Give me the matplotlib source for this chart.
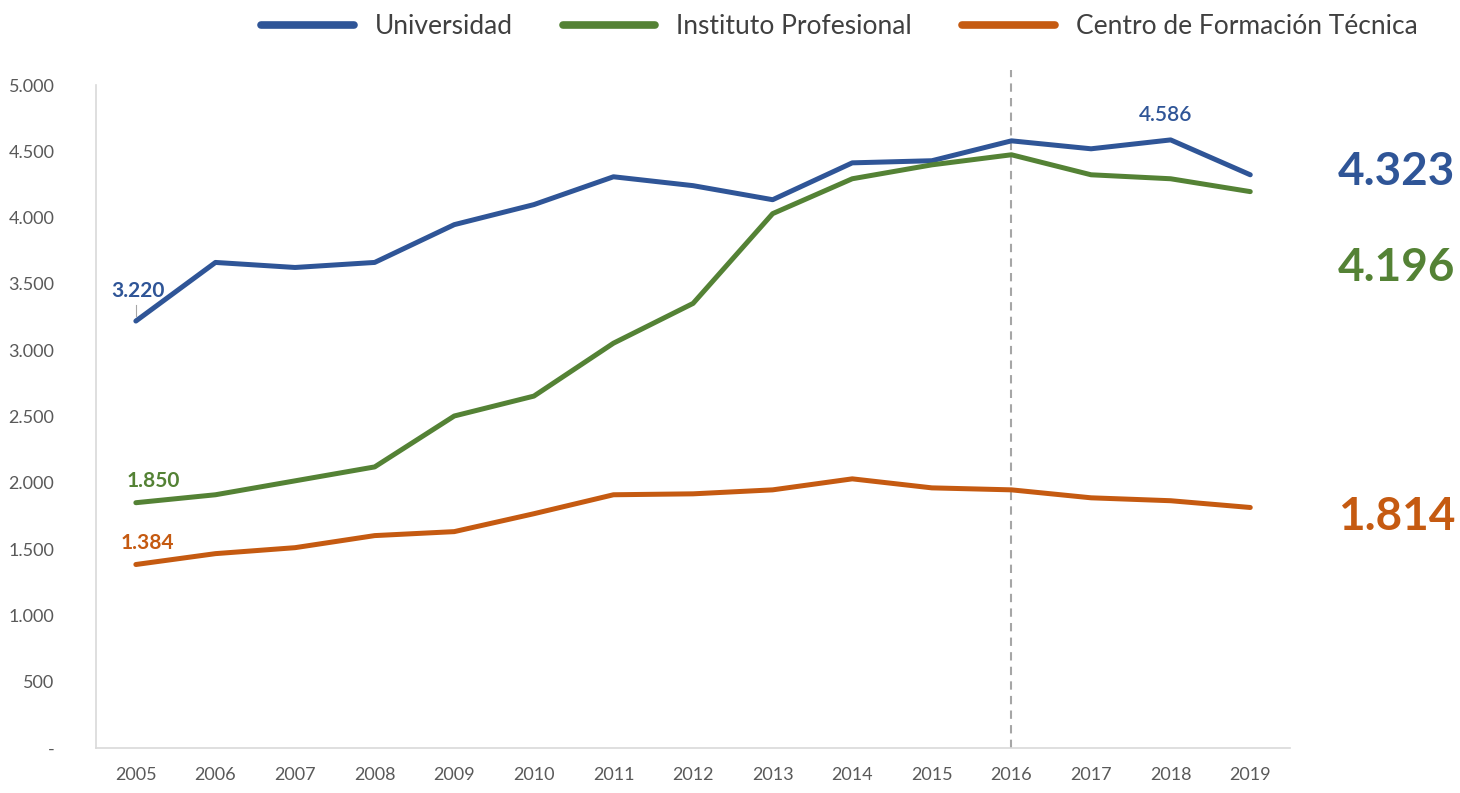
import matplotlib
matplotlib.use("Agg")
import matplotlib.pyplot as plt
from matplotlib.ticker import FuncFormatter

years = list(range(2005, 2020))
universidad = [3220, 3662, 3624, 3662, 3947, 4098, 4308, 4241, 4135, 4413, 4429, 4579, 4519, 4586, 4323]
instituto = [1850, 1910, 2015, 2120, 2504, 2654, 3053, 3353, 4030, 4293, 4398, 4474, 4323, 4293, 4196]
cft = [1384, 1466, 1511, 1602, 1632, 1767, 1910, 1917, 1947, 2030, 1962, 1947, 1887, 1865, 1814]
names = ["Universidad", "Instituto Profesional", "Centro de Formación Técnica"]
colors = ["#2F5597", "#548235", "#C55A11"]

plt.rcParams["font.family"] = ["Lato", "DejaVu Sans"]

fig = plt.figure(figsize=(14.6, 7.93), dpi=100)
ax = fig.add_axes([0.0658, 0.0567, 0.8178, 0.8361])

series = [universidad, instituto, cft]
for vals, name, c in zip(series, names, colors):
    ax.plot(years, vals, color=c, lw=3.6, label=name, solid_capstyle="round", solid_joinstyle="round")

ax.set_xlim(2004.5, 2019.5)
ax.set_ylim(0, 5000)
ax.set_xticks(years)
ax.set_yticks(range(0, 5001, 500))


def fmt(v, pos):
    if v == 0:
        return "-"
    return f"{int(v):,}".replace(",", ".")


ax.yaxis.set_major_formatter(FuncFormatter(fmt))
ax.tick_params(axis="both", length=0, labelsize=13, labelcolor="#595959")
ax.tick_params(axis="y", pad=30)
ax.tick_params(axis="x", pad=14)
for s in ["top", "right"]:
    ax.spines[s].set_visible(False)
for s in ["left", "bottom"]:
    ax.spines[s].set_color("#D9D9D9")
    ax.spines[s].set_linewidth(1.2)

# vertical reference at 2016
ax.vlines(2016, 0, 5110, colors="#A6A6A6", linestyles=(0, (4, 3)), lw=1.5, clip_on=False, zorder=1)

# point labels
ax.annotate(fmt(universidad[0], 0), (years[0], universidad[0]), xytext=(2, 30), textcoords="offset pixels",
            ha="center", va="center", fontsize=15, fontweight="bold", color=colors[0])
ax.plot([years[0], years[0]], [universidad[0] + 40, universidad[0] + 120], color="#A6A6A6", lw=0.8)
ax.annotate(fmt(instituto[0], 0), (years[0], instituto[0]), xytext=(17, 22), textcoords="offset pixels",
            ha="center", va="center", fontsize=15, fontweight="bold", color=colors[1])
ax.annotate(fmt(cft[0], 0), (years[0], cft[0]), xytext=(11, 22), textcoords="offset pixels",
            ha="center", va="center", fontsize=15, fontweight="bold", color=colors[2])
ax.annotate(fmt(universidad[13], 0), (years[13], universidad[13]), xytext=(-5, 25), textcoords="offset pixels",
            ha="center", va="center", fontsize=15, fontweight="semibold", color=colors[0])

# big end labels
offsets = [3, -76, -10]
for vals, c, dy in zip(series, colors, offsets):
    ax.annotate(fmt(vals[-1], 0), (years[-1], vals[-1]), xytext=(146, dy), textcoords="offset pixels",
                ha="center", va="center", fontsize=33, fontweight="bold", color=c, annotation_clip=False)

leg = fig.legend(loc="upper center", bbox_to_anchor=(0.575, 1.012), ncol=3, frameon=False,
                 fontsize=19, handlelength=3.5, columnspacing=1.9, handletextpad=0.8)
for t in leg.get_texts():
    t.set_color("#404040")
for l in leg.get_lines():
    l.set_linewidth(5.5)

fig.savefig("out.png", dpi=100)
